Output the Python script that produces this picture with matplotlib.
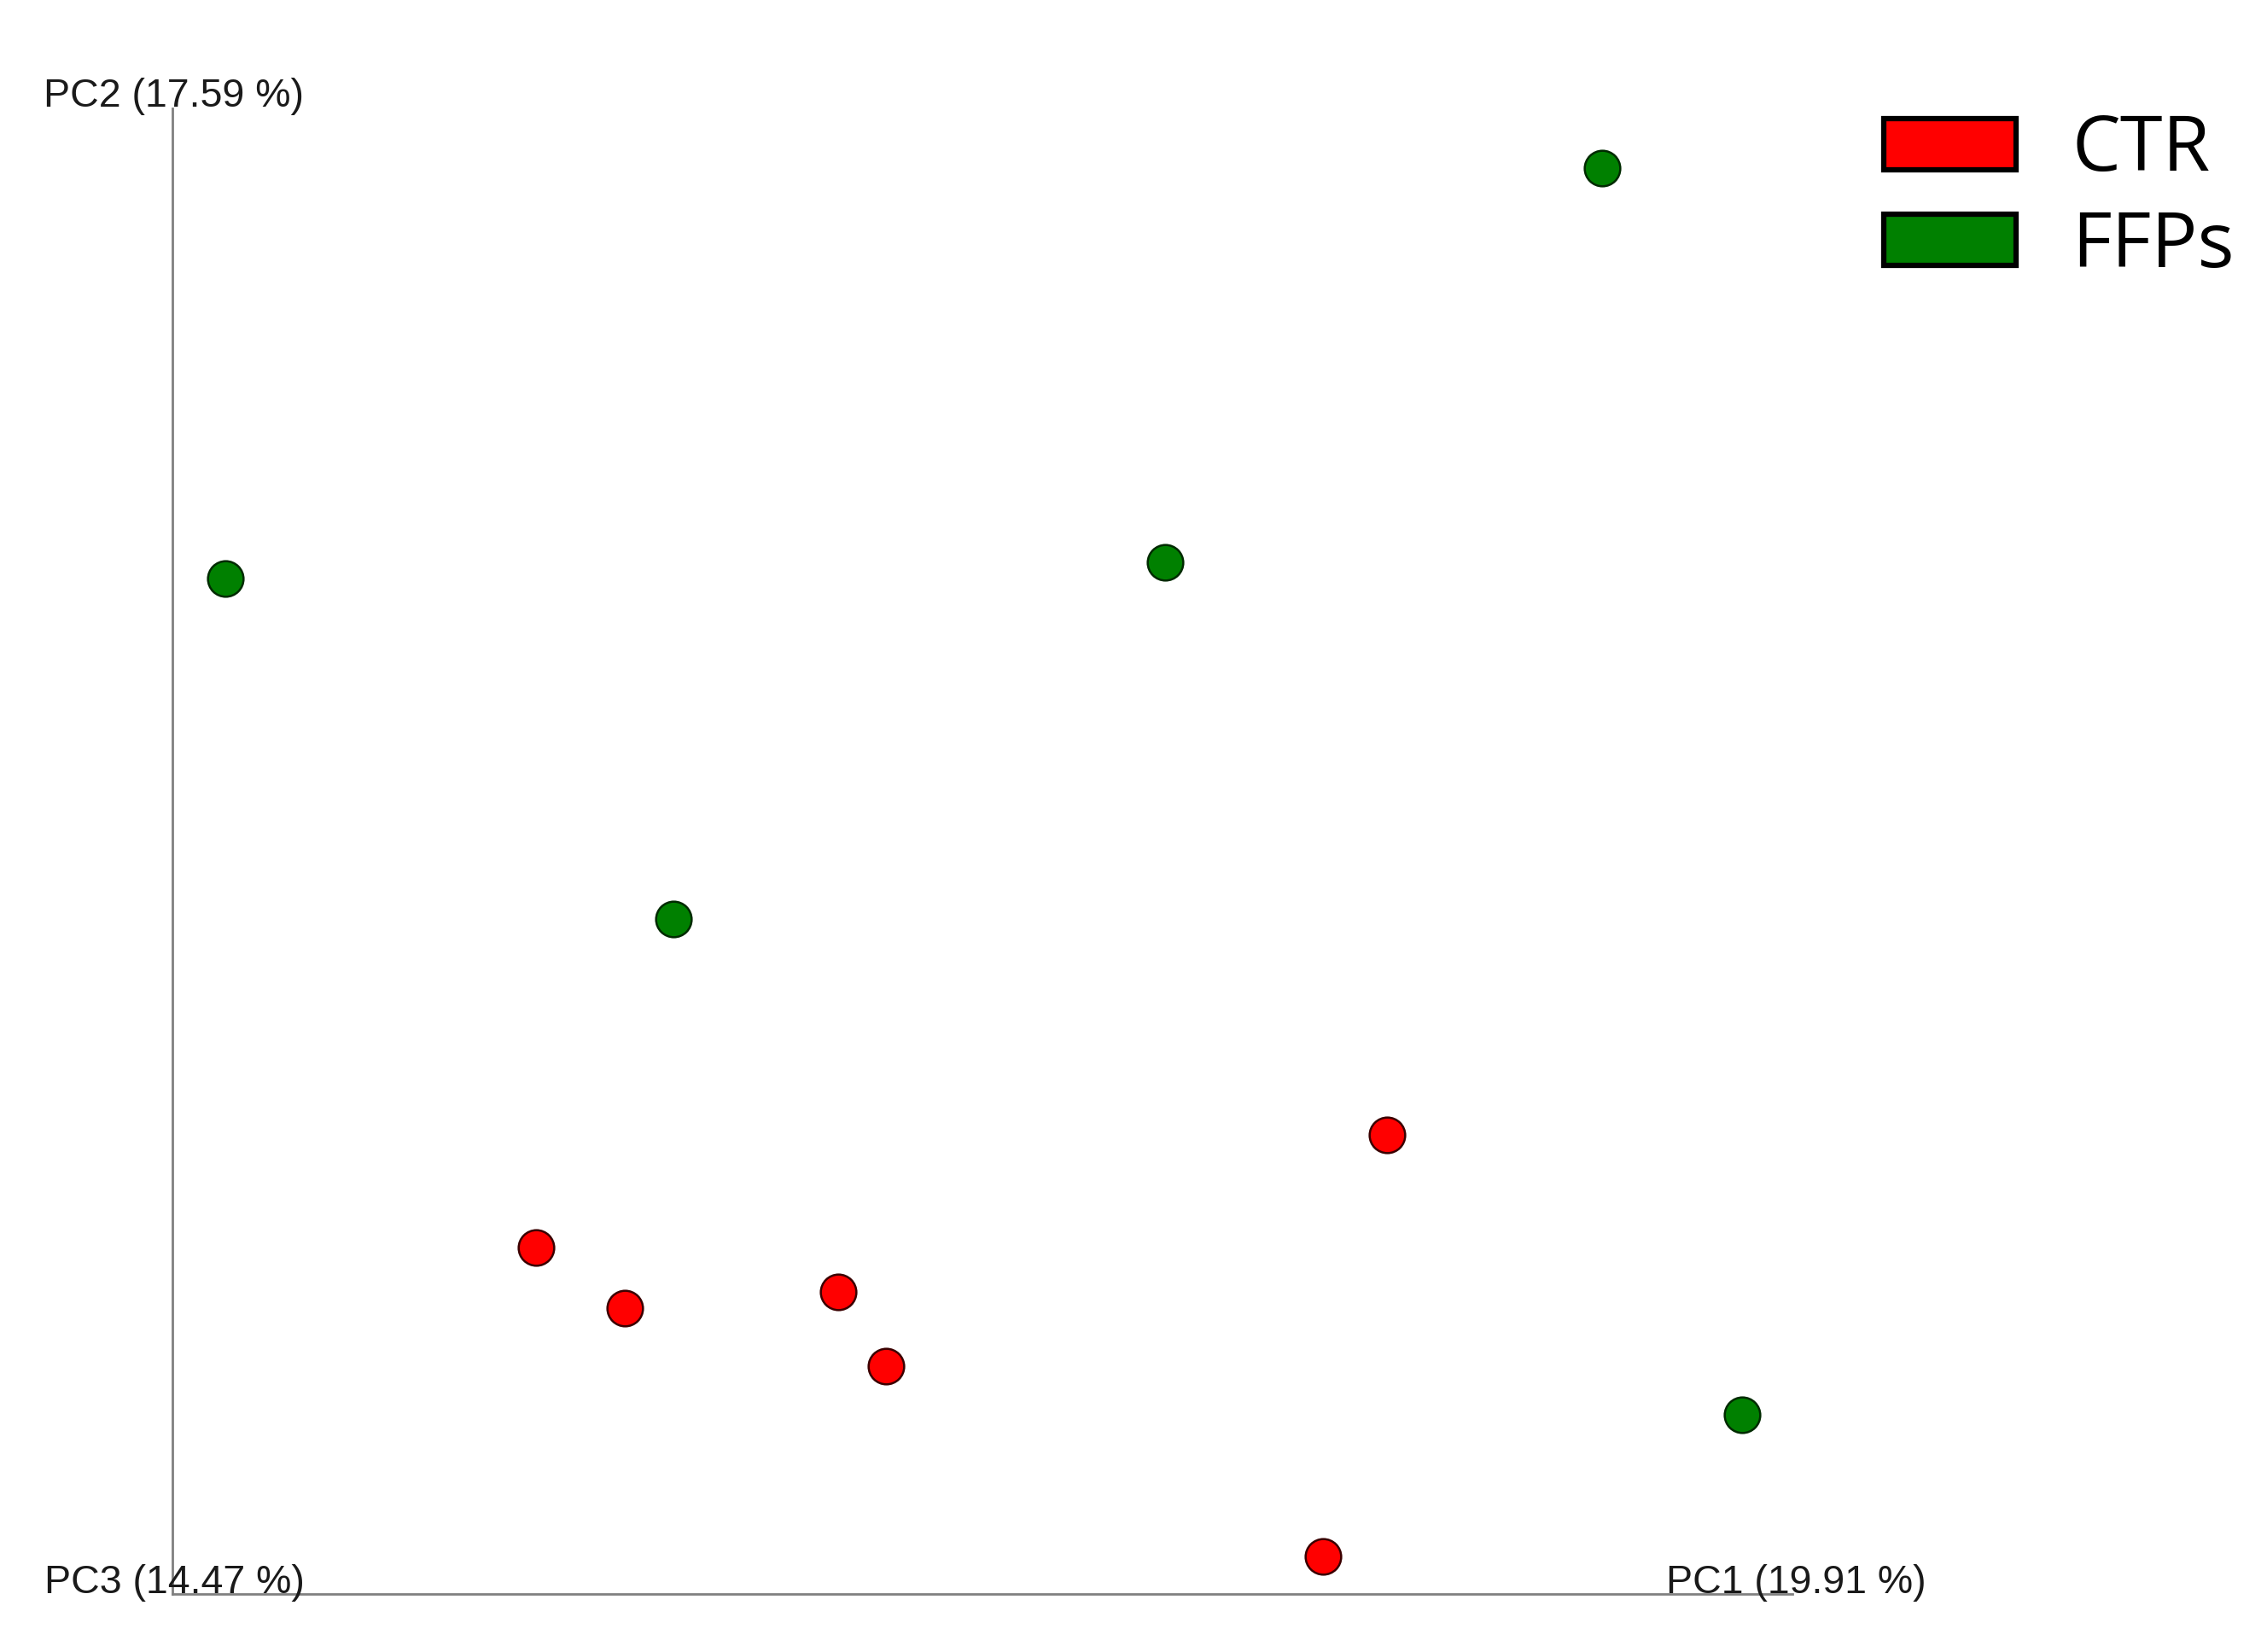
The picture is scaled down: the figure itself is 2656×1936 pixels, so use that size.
import matplotlib
matplotlib.use('Agg')
import matplotlib.pyplot as plt
from matplotlib.patches import Patch

# PCA scores (axes scaled 0-100)
groups = ['CTR', 'FFPs']
colors = {'CTR': '#ff0000', 'FFPs': '#008000'}
ctr_pc1 = [74.97, 22.44, 27.92, 41.10, 44.05, 71.02]
ctr_pc2 = [30.90, 23.32, 19.24, 20.33, 15.34, 2.53]
ffp_pc1 = [88.25, 3.27, 61.28, 30.93, 96.89]
ffp_pc2 = [95.98, 68.35, 69.44, 45.43, 12.06]
axis_labels = ['PC1 (19.91 %)', 'PC2 (17.59 %)', 'PC3 (14.47 %)']

W, H = 2656, 1936
fig = plt.figure(figsize=(W / 100, H / 100), dpi=100)
fig.patch.set_facecolor('white')

# axes box matches the two axis lines of the original
ax = fig.add_axes([202 / W, 1 - 1868 / H, (2100 - 202) / W, (1868 - 127) / H])
ax.set_xlim(0, 100)
ax.set_ylim(0, 100)
ax.set_xticks([])
ax.set_yticks([])
for s in ['top', 'right']:
    ax.spines[s].set_visible(False)
for s in ['left', 'bottom']:
    ax.spines[s].set_color('#808080')
    ax.spines[s].set_linewidth(2)
ax.patch.set_alpha(0)

ax.scatter(ctr_pc1, ctr_pc2, s=30 ** 2, c=colors['CTR'], edgecolors='#3a0000',
           linewidths=1.8, zorder=3, clip_on=False)
ax.scatter(ffp_pc1, ffp_pc2, s=30 ** 2, c=colors['FFPs'], edgecolors='#002a00',
           linewidths=1.8, zorder=3, clip_on=False)

# axis captions
lab_font = dict(fontsize=33.5, family=['Liberation Sans', 'DejaVu Sans'], color='#1a1a1a')
fig.text(51 / W, 1 - 113 / H, axis_labels[1], ha='left', va='center', **lab_font)
fig.text(52 / W, 1 - 1867 / H, axis_labels[2], ha='left', va='baseline', **lab_font)
fig.text(1952 / W, 1 - 1867 / H, axis_labels[0], ha='left', va='baseline', **lab_font)

# legend
handles = [Patch(facecolor=colors[g], edgecolor='black', linewidth=4.5) for g in groups]
leg = fig.legend(handles, groups, loc='upper left',
                 bbox_to_anchor=(2207 / W, 1 - 132 / H),
                 frameon=False, handlelength=1.72, handleheight=0.64,
                 handletextpad=0.72, labelspacing=0.24, borderaxespad=0,
                 borderpad=0, prop={'family': ['Open Sans', 'DejaVu Sans'], 'size': 65})

fig.savefig('out.png', dpi=100, facecolor='white')
